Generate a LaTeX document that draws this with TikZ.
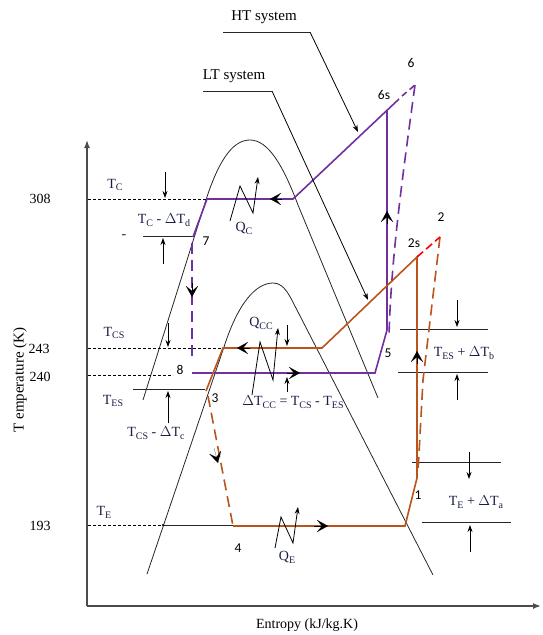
\documentclass[tikz,border=0pt]{standalone}
\usepackage{fontspec}
\setmainfont{Liberation Serif}
\newfontfamily\numfont{Carlito}
\usetikzlibrary{arrows.meta}
\definecolor{htp}{RGB}{112,48,160}
\definecolor{lto}{RGB}{184,84,28}
\definecolor{lbl}{RGB}{25,30,70}
\newcommand\sbs[1]{\raisebox{-0.45ex}{\fontsize{10}{10}\selectfont #1}}
\begin{document}
\begin{tikzpicture}[x=1pt,y=-1pt,
  lab/.style={font=\fontsize{14}{16}\selectfont, text=lbl, inner sep=0pt},
  num/.style={font=\numfont\fontsize{13.5}{15}\selectfont, inner sep=0pt},
  thinl/.style={black!85, line width=0.8pt},
  dsh/.style={black, line width=0.8pt, dash pattern=on 3pt off 2pt},
  ht/.style={htp, line width=1.6pt},
  lt/.style={lto, line width=1.6pt},
  cdash/.style={dash pattern=on 11pt off 6pt},
  darr/.style={black, line width=0.8pt, -{Stealth[length=7pt,width=5pt]}},
  carr/.style={black, line width=0.1pt, -{Stealth[length=11pt,width=12pt,inset=5pt]}},
  axis/.style={black!70, line width=1.5pt, -{Latex[length=8pt,width=6pt]}},
]
\useasboundingbox (0,0) rectangle (542,635);

% axes
\coordinate (O) at (87,606);
\coordinate (Ytop) at (87,140);
\coordinate (Xend) at (541,606);
\draw[axis] (O) -- (Ytop);
\draw[axis] (O) -- (Xend);
\node[font=\fontsize{14}{16}\selectfont, inner sep=0pt] (xl) at (307,625) {Entropy (kJ/kg.K)};
\node[font=\fontsize{15}{17}\selectfont, rotate=90, inner sep=0pt] (yl) at (20,380) {T emperature (K)};

% domes
\draw[thinl] (143,400) -- (205,203) .. controls (220,155) and (235,140) .. (250,140)
  .. controls (268,140) and (283,165) .. (298,205) -- (378,398);
\draw[thinl] (147,574) -- (224,347) .. controls (238,303) and (256,283) .. (273,283)
  .. controls (285,283) and (290,297) .. (297,310) -- (433,575);

% tick labels
\node[font=\fontsize{14}{16}\selectfont, inner sep=0pt] (t308) at (40,199) {308};
\node[font=\fontsize{14}{16}\selectfont, inner sep=0pt] (t243) at (39,349) {243};
\node[font=\fontsize{14}{16}\selectfont, inner sep=0pt] (t240) at (40,377) {240};
\node[font=\fontsize{14}{16}\selectfont, inner sep=0pt] (t193) at (40,526) {193};

% dashed reference lines
\draw[dsh] (88,199) -- (207,199);
\draw[dsh] (88,348) -- (223,348);
\draw[dsh] (88,375) -- (173,375);
\draw[dsh] (88,525) -- (163,525);
\draw[thinl] (163,525) -- (233,525);
\fill (163,525) circle (1.2pt);

% left auxiliary lines and arrows
\draw[thinl] (143,236) -- (193,236);
\draw[thinl] (133,389) -- (205,389);
\node[lab] (dashm) at (124,237) {-};
\draw[darr] (165,172) -- (165,198);
\draw[darr] (163,264) -- (163,238);
\draw[darr] (168,323) -- (168,347);
\draw[darr] (168,423) -- (168,391);

% right auxiliary lines and arrows
\draw[thinl] (400,329) -- (488,329);
\draw[thinl] (398,372) -- (488,372);
\draw[darr] (457,300) -- (457,327);
\draw[darr] (457,400) -- (457,374);
\draw[thinl] (412,462) -- (501,462);
\draw[thinl] (422,522) -- (511,522);
\draw[darr] (469,452) -- (469,479);
\draw[darr] (470,552) -- (470,525);
\draw[darr] (287,325) -- (287,346);
\draw[darr] (287,392) -- (287,377);

% HT cycle (purple)
\coordinate (P7) at (193,237);
\coordinate (Ha) at (207,199);
\coordinate (Hb) at (293,199);
\coordinate (P6s) at (399,99);
\coordinate (Hc) at (387,110);
\coordinate (Hd) at (387,330);
\coordinate (P5) at (375,373);
\coordinate (P8) at (192,373);
\coordinate (P6) at (415,85);
\draw[ht] (P7) -- (Ha) -- (Hb) -- (P6s);
\draw[ht] (Hc) -- (Hd) -- (P5) -- (P8);
\draw[ht, cdash] (192,243) -- (192,362);
\draw[ht, dash pattern=on 6pt off 4pt] (402,96) -- (P6);
\draw[ht, cdash] (P6) .. controls (402,180) and (391,260) .. (389,336);

% LT cycle (orange)
\coordinate (P4) at (233,526);
\coordinate (P1) at (405,526);
\coordinate (La) at (417,478);
\coordinate (P2s) at (417,257);
\coordinate (Lb) at (322,348);
\coordinate (Lc) at (223,348);
\coordinate (P3) at (206,391);
\coordinate (P2) at (440,237);
\draw[lt] (P4) -- (P1) -- (La) -- (P2s) -- (Lb) -- (Lc) -- (P3);
\draw[lt, cdash] (208,396) -- (P4);
\draw[lt, cdash] (P2) -- (423,380) -- (418,472);
\draw[red, line width=1.6pt, dash pattern=on 8pt off 4pt] (P2s) -- (P2);

% cycle direction arrows
\draw[carr] (282,199) -- (270,199);
\draw[carr] (387,224) -- (387,211);
\draw[carr] (287,373) -- (300,373);
\draw[carr] (192,283) -- (192,297);
\draw[carr] (250,348) -- (237,348);
\draw[carr] (417,364) -- (417,351);
\draw[carr] (214,448) -- (218,463);
\draw[carr] (314,526) -- (328,526);

% heat zigzags
\draw[darr] (230,221) -- (240,186) -- (253,213) -- (258,177);
\draw[darr] (252,395) -- (260,342) -- (273,380) -- (278,328);
\draw[darr] (275,548) -- (281,517) -- (293,543) -- (298,507);

% leaders
\draw[thinl] (223,32) -- (310,32);
\draw[darr] (310,32) -- (358,132);
\draw[thinl] (203,91) -- (272,91);
\draw[darr] (272,91) -- (368,300);
\node[font=\fontsize{15}{17}\selectfont, inner sep=0pt] (hts) at (264,17) {HT system};
\node[font=\fontsize{15}{17}\selectfont, inner sep=0pt] (lts) at (234,76) {LT system};

% T labels
\node[lab] (lTC) at (115,185) {T\sbs{C}};
\node[lab] (lTCd) at (164,220) {T\sbs{C} - $\Delta$T\sbs{d}};
\node[lab] (lTCS) at (114,333) {T\sbs{CS}};
\node[lab] (lTES) at (113,401) {T\sbs{ES}};
\node[lab] (lTCSc) at (156,433) {T\sbs{CS} - $\Delta$T\sbs{c}};
\node[lab] (lTE) at (104,512) {T\sbs{E}};
\node[lab] (lQC) at (244,228) {Q\sbs{C}};
\node[lab] (lQCC) at (261,323) {Q\sbs{CC}};
\node[lab] (lQE) at (287,557) {Q\sbs{E}};
\node[lab] (lDT) at (293,402) {$\Delta$T\sbs{CC} = T\sbs{CS} - T\sbs{ES}};
\node[lab] (lTb) at (464,353) {T\sbs{ES} + $\Delta$T\sbs{b}};
\node[lab] (lTa) at (476,502) {T\sbs{E} + $\Delta$T\sbs{a}};

% point labels
\node[num] (n1) at (418,495) {1};
\node[num] (n2) at (441,217) {2};
\node[num] (n2s) at (414,243) {2s};
\node[num] (n3) at (215,398) {3};
\node[num] (n4) at (238,548) {4};
\node[num] (n5) at (388,353) {5};
\node[num] (n6) at (411,63) {6};
\node[num] (n6s) at (384,95) {6s};
\node[num] (n7) at (206,241) {7};
\node[num] (n8) at (180,370) {8};
\end{tikzpicture}
\end{document}
